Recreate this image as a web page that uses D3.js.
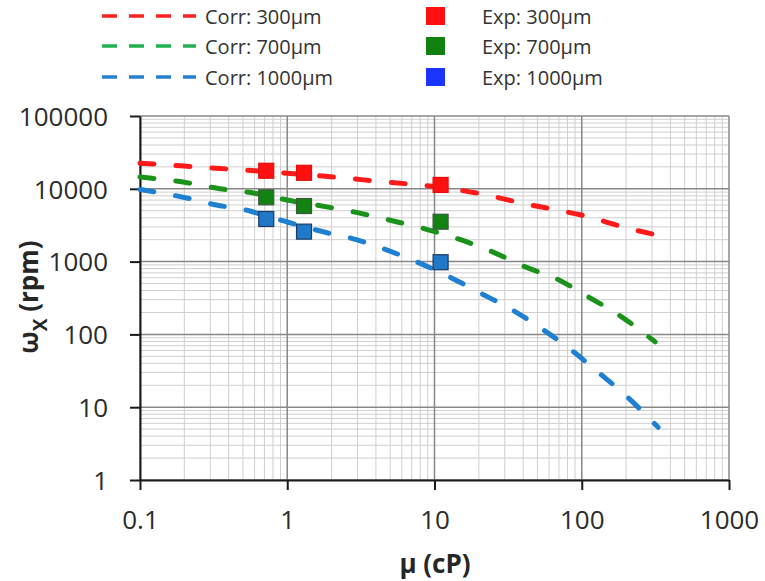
<!DOCTYPE html>
<html>
<head>
<meta charset="utf-8">
<script src="https://cdn.jsdelivr.net/npm/d3@7"></script>
<style>
  body { margin: 0; background: #fff; }
  text { font-family: "Open Sans", sans-serif; }
</style>
</head>
<body>
<div id="chart"></div>
<script>
// correlation curves (mu in cP, omega in rpm)
var corr300Mu = [0.1, 0.2, 0.35, 0.6, 1.3, 2.5, 4.3, 7.5, 12.5, 22, 40, 65, 110, 190, 330];
var corr300W  = [22500, 20500, 19000, 17700, 15700, 14000, 12600, 11400, 10100, 8300, 6300, 5200, 4150, 3000, 2300];
var corr700Mu = [0.1, 0.2, 0.35, 0.6, 1, 1.9, 3, 5, 8.7, 15, 25, 40, 70, 110, 175, 315];
var corr700W  = [14500, 12300, 10000, 8700, 7000, 5600, 4700, 3700, 2800, 2000, 1350, 870, 560, 330, 190, 79];
var corr1000Mu = [0.1, 0.2, 0.33, 0.55, 0.7, 1, 2, 2.7, 4.5, 7.5, 12, 21, 34, 54, 84, 130, 195, 330];
var corr1000W  = [9800, 7600, 6000, 5000, 4300, 3500, 2400, 2100, 1500, 1000, 650, 360, 215, 118, 62, 30, 15, 5.3];

// experimental points
var expMu = [0.72, 1.3, 11];
var exp300W = [17700, 16600, 11300];
var exp700W = [7640, 5800, 3530];
var exp1000W = [3850, 2580, 980];

var xTicks = [0.1, 1, 10, 100, 1000];
var xTickLabels = ["0.1", "1", "10", "100", "1000"];
var yTicks = [1, 10, 100, 1000, 10000, 100000];
var yTickLabels = ["1", "10", "100", "1000", "10000", "100000"];

var corrNames = ["Corr: 300\u00b5m", "Corr: 700\u00b5m", "Corr: 1000\u00b5m"];
var expNames = ["Exp: 300\u00b5m", "Exp: 700\u00b5m", "Exp: 1000\u00b5m"];

var W = 765, H = 581;
var margin = {top: 116, right: 36, bottom: 101, left: 140};
var width = W - margin.left - margin.right,
    height = H - margin.top - margin.bottom;

var svg = d3.select("#chart").append("svg")
    .attr("width", W).attr("height", H);
var g = svg.append("g")
    .attr("transform", "translate(" + margin.left + "," + margin.top + ")");

var x = d3.scaleLog().domain([0.1, 1000]).range([0, width]);
var y = d3.scaleLog().domain([1, 100000]).range([height, 0]);

// minor grid
var minorX = [], minorY = [];
xTicks.slice(0, -1).forEach(function(d) { for (var k = 2; k <= 9; k++) minorX.push(d * k); });
yTicks.slice(0, -1).forEach(function(d) { for (var k = 2; k <= 9; k++) minorY.push(d * k); });

g.selectAll(".minx").data(minorX).enter().append("line")
    .attr("x1", d => x(d)).attr("x2", d => x(d))
    .attr("y1", 0).attr("y2", height)
    .attr("stroke", "#cfcfcf").attr("stroke-width", 1);
g.selectAll(".miny").data(minorY).enter().append("line")
    .attr("y1", d => y(d)).attr("y2", d => y(d))
    .attr("x1", 0).attr("x2", width)
    .attr("stroke", "#cfcfcf").attr("stroke-width", 1);

// major grid
g.selectAll(".majx").data(xTicks).enter().append("line")
    .attr("x1", d => x(d)).attr("x2", d => x(d))
    .attr("y1", 0).attr("y2", height)
    .attr("stroke", "#888").attr("stroke-width", 1.5);
g.selectAll(".majy").data(yTicks).enter().append("line")
    .attr("y1", d => y(d)).attr("y2", d => y(d))
    .attr("x1", 0).attr("x2", width)
    .attr("stroke", "#888").attr("stroke-width", 1.5);

// axes
var xAxis = g.append("g")
    .attr("transform", "translate(0," + height + ")")
    .call(d3.axisBottom(x).tickValues(xTicks)
        .tickFormat((d, i) => xTickLabels[i]).tickSize(10).tickSizeOuter(0));
var yAxis = g.append("g")
    .call(d3.axisLeft(y).tickValues(yTicks)
        .tickFormat((d, i) => yTickLabels[i]).tickSize(10).tickSizeOuter(0));

[xAxis, yAxis].forEach(function(a) {
  a.select(".domain").attr("stroke", "#1a1a1a").attr("stroke-width", 2);
  a.selectAll(".tick line").attr("stroke", "#1a1a1a").attr("stroke-width", 2);
  a.selectAll(".tick text").attr("fill", "#2b2b2b").style("font-size", "26px")
    .style("font-family", "'Open Sans', sans-serif");
});
xAxis.selectAll(".tick text").attr("dy", null).attr("y", 49);
yAxis.selectAll(".tick text").attr("x", -32).attr("dy", "0.36em");

// curves
var line = d3.line()
    .x(d => x(d[0])).y(d => y(d[1]))
    .curve(d3.curveMonotoneX);

var corrSeries = [
  {mu: corr300Mu, w: corr300W, color: "#ff1a1a"},
  {mu: corr700Mu, w: corr700W, color: "#1b931b"},
  {mu: corr1000Mu, w: corr1000W, color: "#1f80d2"}
];
corrSeries.forEach(function(s) {
  g.append("path")
    .datum(d3.zip(s.mu, s.w))
    .attr("fill", "none")
    .attr("stroke", s.color)
    .attr("stroke-width", 5)
    .attr("stroke-linecap", "round")
    .attr("stroke-dasharray", "14,22")
    .attr("d", line);
});

// experimental squares
var expSeries = [
  {w: exp300W, fill: "#ff1010", stroke: "#e01010"},
  {w: exp700W, fill: "#128212", stroke: "#3d5a3d"},
  {w: exp1000W, fill: "#1f78c8", stroke: "#1f3a63"}
];
var sq = 15;
expSeries.forEach(function(s) {
  g.selectAll(null).data(d3.zip(expMu, s.w)).enter().append("rect")
    .attr("x", d => x(d[0]) - sq / 2)
    .attr("y", d => y(d[1]) - sq / 2)
    .attr("width", sq).attr("height", sq)
    .attr("fill", s.fill)
    .attr("stroke", s.stroke)
    .attr("stroke-width", 1.2);
});

// axis titles
svg.append("text")
    .attr("x", 435).attr("y", 573)
    .attr("text-anchor", "middle")
    .attr("fill", "#262626")
    .style("font-size", "26px").style("font-weight", "bold")
    .text("\u00b5 (cP)");

var yt = svg.append("text")
    .attr("transform", "translate(38,297) rotate(-90)")
    .attr("text-anchor", "middle")
    .attr("fill", "#262626")
    .style("font-size", "26px").style("font-weight", "bold");
yt.append("tspan").text("\u03c9");
yt.append("tspan").attr("dy", 9).style("font-size", "19px").text("X");
yt.append("tspan").attr("dy", -9).text(" (rpm)");

// legend
var legRows = [17, 47, 78];
var legLineColors = ["#ff2020", "#22b050", "#2a80d0"];
var legSqColors = ["#ff1010", "#108010", "#1a35ff"];
var leg = svg.append("g");
legRows.forEach(function(ry, i) {
  leg.append("line")
    .attr("x1", 102).attr("x2", 196)
    .attr("y1", ry - 1).attr("y2", ry - 1)
    .attr("stroke", legLineColors[i])
    .attr("stroke-width", 3.5)
    .attr("stroke-dasharray", "15,12");
  leg.append("text")
    .attr("x", 205).attr("y", ry).attr("dy", "0.35em")
    .attr("fill", "#333")
    .style("font-size", "20px")
    .text(corrNames[i]);
  leg.append("rect")
    .attr("x", 426).attr("y", ry - 10)
    .attr("width", 19).attr("height", 18)
    .attr("fill", legSqColors[i]);
  leg.append("text")
    .attr("x", 482).attr("y", ry).attr("dy", "0.35em")
    .attr("fill", "#333")
    .style("font-size", "20px")
    .text(expNames[i]);
});
</script>
</body>
</html>
